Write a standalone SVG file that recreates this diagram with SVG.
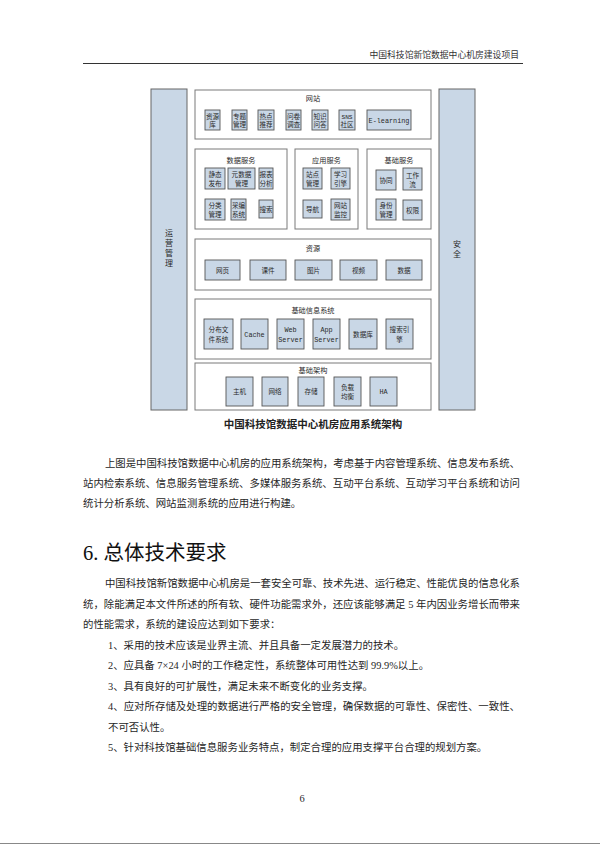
<svg xmlns="http://www.w3.org/2000/svg" width="600" height="851" viewBox="0 0 600 851">
<style>
.pg{fill:#ffffff}
.col{fill:#c9d7e6;stroke:#666;stroke-width:1}
.ctn{fill:#ffffff;stroke:#7a7a7a;stroke-width:1}
.it{fill:#c9d7e6;stroke:#555;stroke-width:0.9}
.t{font-family:"Noto Sans CJK SC","Liberation Sans",sans-serif;fill:#2a2a2a;text-anchor:middle}
.it7{font-size:6.6px}
.ti{font-size:7.2px}
.lat{font-family:"Liberation Mono","Noto Sans CJK SC",monospace;font-size:6.8px;fill:#2a2a2a;text-anchor:middle}
.vt{font-size:8px}
.body{font-family:"Liberation Serif","Noto Sans CJK SC",serif;font-size:10.4px;fill:#262626}
.hd{font-family:"Liberation Serif","Noto Sans CJK SC",serif;font-size:20.5px;fill:#111}
.cap{font-family:"Noto Sans CJK SC",sans-serif;font-size:10.5px;font-weight:700;fill:#222;text-anchor:middle}
.hdr{font-family:"Noto Sans CJK SC",sans-serif;font-size:8.8px;fill:#333;text-anchor:end}
</style>
<rect class="pg" x="0" y="0" width="600" height="851"/>

<g id="page-header">
<text class="hdr" x="519" y="58">中国科技馆新馆数据中心机房建设项目</text>
<line x1="83" y1="63.5" x2="523" y2="63.5" stroke="#333" stroke-width="1"/>
</g>

<g id="connectors"></g>

<g id="yunying">
<rect class="col" x="151" y="89" width="36" height="321"/>
<text class="t vt" x="169" y="236">运</text>
<text class="t vt" x="169" y="246">营</text>
<text class="t vt" x="169" y="256">管</text>
<text class="t vt" x="169" y="266">理</text>
</g>
<g id="anquan">
<rect class="col" x="439" y="89" width="36" height="321"/>
<text class="t vt" x="457" y="247">安</text>
<text class="t vt" x="457" y="257">全</text>
</g>

<g id="wangzhan">
<rect class="ctn" x="195" y="90" width="236" height="49"/>
<text class="t ti" x="313" y="100.5">网站</text>
<g id="ziyuanku"><rect class="it" x="205" y="110" width="15" height="20"/><text class="t it7" x="212.5" y="118.5">资源</text><text class="t it7" x="212.5" y="127">库</text></g>
<g id="zhuanti"><rect class="it" x="232" y="110" width="15" height="20"/><text class="t it7" x="239.5" y="118.5">专题</text><text class="t it7" x="239.5" y="127">管理</text></g>
<g id="redian"><rect class="it" x="258" y="110" width="16" height="20"/><text class="t it7" x="266" y="118.5">热点</text><text class="t it7" x="266" y="127">推荐</text></g>
<g id="wenjuan"><rect class="it" x="286" y="110" width="15" height="20"/><text class="t it7" x="293.5" y="118.5">问卷</text><text class="t it7" x="293.5" y="127">调查</text></g>
<g id="zhishi"><rect class="it" x="312" y="110" width="16" height="20"/><text class="t it7" x="320" y="118.5">知识</text><text class="t it7" x="320" y="127">问答</text></g>
<g id="sns"><rect class="it" x="339" y="110" width="16" height="20"/><text class="lat" x="347" y="118.5" style="font-size:6.2px">SNS</text><text class="t it7" x="347" y="127">社区</text></g>
<g id="elearning"><rect class="it" x="367" y="110" width="44" height="20"/><text class="lat" x="389" y="122.5">E-learning</text></g>
</g>

<g id="shujufuwu">
<rect class="ctn" x="195" y="149" width="92" height="80"/>
<text class="t ti" x="241" y="162.5">数据服务</text>
<g id="jingtai"><rect class="it" x="205" y="168" width="20" height="21"/><text class="t it7" x="215" y="177">静态</text><text class="t it7" x="215" y="186">发布</text></g>
<g id="yuanshuju"><rect class="it" x="228" y="168" width="27" height="21"/><text class="t it7" x="241.5" y="177">元数据</text><text class="t it7" x="241.5" y="186">管理</text></g>
<g id="baobiao"><rect class="it" x="259" y="168" width="14" height="21"/><text class="t it7" x="266" y="177">报表</text><text class="t it7" x="266" y="186">分析</text></g>
<g id="fenlei"><rect class="it" x="205" y="199" width="20" height="21"/><text class="t it7" x="215" y="208">分类</text><text class="t it7" x="215" y="217">管理</text></g>
<g id="caibian"><rect class="it" x="231" y="199" width="15" height="21"/><text class="t it7" x="238.5" y="208">采编</text><text class="t it7" x="238.5" y="217">系统</text></g>
<g id="sousuo"><rect class="it" x="259" y="200" width="14" height="18"/><text class="t it7" x="266" y="211.5">搜索</text></g>
</g>

<g id="yingyongfuwu">
<rect class="ctn" x="295" y="149" width="63" height="80"/>
<text class="t ti" x="326.5" y="162.5">应用服务</text>
<g id="zhandian"><rect class="it" x="303" y="168" width="19" height="21"/><text class="t it7" x="312.5" y="177">站点</text><text class="t it7" x="312.5" y="186">管理</text></g>
<g id="xuexi"><rect class="it" x="331" y="168" width="19" height="21"/><text class="t it7" x="340.5" y="177">学习</text><text class="t it7" x="340.5" y="186">引擎</text></g>
<g id="daohang"><rect class="it" x="303" y="200" width="19" height="18"/><text class="t it7" x="312.5" y="211.5">导航</text></g>
<g id="jiankong"><rect class="it" x="331" y="199" width="19" height="21"/><text class="t it7" x="340.5" y="208">网站</text><text class="t it7" x="340.5" y="217">监控</text></g>
</g>

<g id="jichufuwu">
<rect class="ctn" x="367" y="149" width="64" height="80"/>
<text class="t ti" x="399" y="162.5">基础服务</text>
<g id="xietong"><rect class="it" x="376" y="170" width="20" height="20"/><text class="t it7" x="386" y="182.5">协同</text></g>
<g id="gongzuoliu"><rect class="it" x="403" y="168" width="19" height="22"/><text class="t it7" x="412.5" y="177.5">工作</text><text class="t it7" x="412.5" y="186.5">流</text></g>
<g id="shenfen"><rect class="it" x="376" y="199" width="20" height="21"/><text class="t it7" x="386" y="208">身份</text><text class="t it7" x="386" y="217">管理</text></g>
<g id="quanxian"><rect class="it" x="403" y="200" width="19" height="20"/><text class="t it7" x="412.5" y="212.5">权限</text></g>
</g>

<g id="ziyuan">
<rect class="ctn" x="195" y="239" width="236" height="51"/>
<text class="t ti" x="313" y="250.5">资源</text>
<g id="wangye"><rect class="it" x="205" y="260" width="35" height="20"/><text class="t it7" x="222.5" y="272.5">网页</text></g>
<g id="kejian"><rect class="it" x="250" y="260" width="36" height="20"/><text class="t it7" x="268" y="272.5">课件</text></g>
<g id="tupian"><rect class="it" x="295" y="260" width="37" height="20"/><text class="t it7" x="313.5" y="272.5">图片</text></g>
<g id="shipin"><rect class="it" x="340" y="260" width="37" height="20"/><text class="t it7" x="358.5" y="272.5">视频</text></g>
<g id="shuju"><rect class="it" x="386" y="260" width="36" height="20"/><text class="t it7" x="404" y="272.5">数据</text></g>
</g>

<g id="jichuxinxi">
<rect class="ctn" x="195" y="299" width="236" height="60"/>
<text class="t ti" x="313" y="312.5">基础信息系统</text>
<g id="fenbu"><rect class="it" x="204" y="319" width="29" height="30"/><text class="t it7" x="218.5" y="332">分布文</text><text class="t it7" x="218.5" y="341.5">件系统</text></g>
<g id="cache"><rect class="it" x="241" y="319" width="27" height="30"/><text class="lat" x="254.5" y="336.5">Cache</text></g>
<g id="webserver"><rect class="it" x="277" y="319" width="27" height="30"/><text class="lat" x="290.5" y="332">Web</text><text class="lat" x="290.5" y="341.5">Server</text></g>
<g id="appserver"><rect class="it" x="313" y="319" width="27" height="30"/><text class="lat" x="326.5" y="332">App</text><text class="lat" x="326.5" y="341.5">Server</text></g>
<g id="shujuku"><rect class="it" x="349" y="319" width="28" height="30"/><text class="t it7" x="363" y="336.5">数据库</text></g>
<g id="sousuoyinqing"><rect class="it" x="386" y="319" width="27" height="30"/><text class="t it7" x="399.5" y="332">搜索引</text><text class="t it7" x="399.5" y="341.5">擎</text></g>
</g>

<g id="jichujiagou">
<rect class="ctn" x="195" y="363" width="236" height="47"/>
<text class="t ti" x="313" y="372.5">基础架构</text>
<g id="zhuji"><rect class="it" x="226" y="377" width="27" height="29"/><text class="t it7" x="239.5" y="394">主机</text></g>
<g id="wangluo"><rect class="it" x="262" y="377" width="26" height="29"/><text class="t it7" x="275" y="394">网络</text></g>
<g id="cunchu"><rect class="it" x="298" y="377" width="26" height="29"/><text class="t it7" x="311" y="394">存储</text></g>
<g id="fuzai"><rect class="it" x="334" y="377" width="27" height="29"/><text class="t it7" x="347.5" y="389.5">负载</text><text class="t it7" x="347.5" y="399">均衡</text></g>
<g id="ha"><rect class="it" x="370" y="377" width="27" height="29"/><text class="lat" x="383.5" y="394">HA</text></g>
</g>

<text class="cap" x="313" y="428">中国科技馆数据中心机房应用系统架构</text>

<g id="body-text">
<text class="body" x="105" y="467" textLength="415" lengthAdjust="spacing">上图是中国科技馆数据中心机房的应用系统架构，考虑基于内容管理系统、信息发布系统、</text>
<text class="body" x="83" y="487" textLength="437" lengthAdjust="spacing">站内检索系统、信息服务管理系统、多媒体服务系统、互动平台系统、互动学习平台系统和访问</text>
<text class="body" x="83" y="507">统计分析系统、网站监测系统的应用进行构建。</text>
<text class="hd" x="83" y="559.5">6. 总体技术要求</text>
<text class="body" x="105" y="587" textLength="415" lengthAdjust="spacing">中国科技馆新馆数据中心机房是一套安全可靠、技术先进、运行稳定、性能优良的信息化系</text>
<text class="body" x="83" y="607.5" textLength="437" lengthAdjust="spacing">统，除能满足本文件所述的所有软、硬件功能需求外，还应该能够满足 5 年内因业务增长而带来</text>
<text class="body" x="83" y="628">的性能需求，系统的建设应达到如下要求：</text>
<text class="body" x="108" y="648.5">1、采用的技术应该是业界主流、并且具备一定发展潜力的技术。</text>
<text class="body" x="108" y="669">2、应具备 7×24 小时的工作稳定性，系统整体可用性达到 99.9%以上。</text>
<text class="body" x="108" y="689.5">3、具有良好的可扩展性，满足未来不断变化的业务支撑。</text>
<text class="body" x="108" y="710" textLength="412" lengthAdjust="spacing">4、应对所存储及处理的数据进行严格的安全管理，确保数据的可靠性、保密性、一致性、</text>
<text class="body" x="108" y="730.5">不可否认性。</text>
<text class="body" x="108" y="751">5、针对科技馆基础信息服务业务特点，制定合理的应用支撑平台合理的规划方案。</text>
</g>

<g id="page-footer">
<text class="body" x="302" y="802" text-anchor="middle">6</text>
<line x1="0" y1="843.5" x2="600" y2="843.5" stroke="#888" stroke-width="1"/>
</g>
</svg>
